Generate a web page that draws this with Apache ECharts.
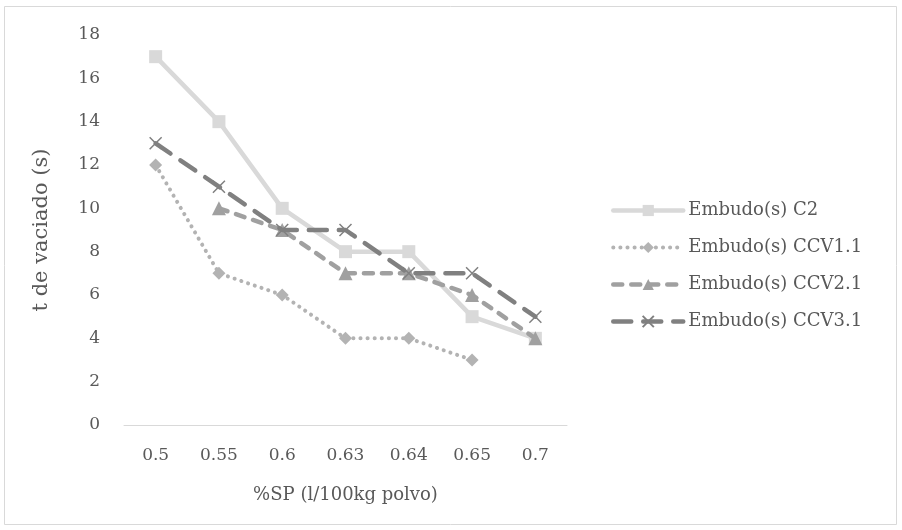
<!DOCTYPE html>
<html><head><meta charset="utf-8">
<script src="https://cdn.jsdelivr.net/npm/echarts@6/dist/echarts.min.js"></script>
<style>html,body{margin:0;padding:0;background:#fff}#c{width:902px;height:530px}</style>
</head><body><div id="c"></div>
<script>
const categories = ['0.5','0.55','0.6','0.63','0.64','0.65','0.7'];
const c2 = [17, 14, 10, 8, 8, 5, 4];
const ccv11 = [12, 7, 6, 4, 4, 3, null];
const ccv21 = [null, 10, 9, 7, 7, 6, 4];
const ccv31 = [13, 11, 9, 9, 7, 7, 5];
const names = ['Embudo(s) C2','Embudo(s) CCV1.1','Embudo(s) CCV2.1','Embudo(s) CCV3.1'];
const yTicks = {min: 0, max: 18, interval: 2};

const FONT = 'DejaVu Serif';
const chart = echarts.init(document.getElementById('c'), null, {renderer:'canvas'});
const xPath = 'path://M0,0L10,10M10,0L0,10';
const styles = [
  {color:'#d9d9d9', width:4.5, type:'solid'},
  {color:'#b3b3b3', width:4, type:[0.1,7]},
  {color:'#a0a0a0', width:4.5, type:[9,9]},
  {color:'#808080', width:4.5, type:[18,12]}
];
chart.setOption({
  animation: false,
  backgroundColor: '#fff',
  graphic: [{type:'rect', shape:{x:4.5,y:6.5,width:892,height:518}, style:{fill:'none', stroke:'#d9d9d9', lineWidth:1}, silent:true}],
  grid: {left:124, right:335, top:35, bottom:105, containLabel:false},
  textStyle: {fontFamily: FONT, color:'#595959'},
  xAxis: {
    type:'category', data: categories, boundaryGap: true,
    axisLine:{lineStyle:{color:'#d9d9d9', width:1}},
    axisTick:{show:false},
    axisLabel:{color:'#595959', fontFamily:FONT, fontSize:17, margin:22},
    name:'%SP (l/100kg polvo)', nameLocation:'middle', nameGap:61,
    nameTextStyle:{color:'#595959', fontFamily:FONT, fontSize:18}
  },
  yAxis: {
    type:'value', min:yTicks.min, max:yTicks.max, interval:yTicks.interval,
    axisLine:{show:false}, axisTick:{show:false}, splitLine:{show:false},
    axisLabel:{color:'#595959', fontFamily:FONT, fontSize:17, margin:24},
    name:'t de vaciado (s)', nameLocation:'middle', nameGap:72, nameRotate:90,
    nameTextStyle:{color:'#595959', fontFamily:FONT, fontSize:21}
  },
  legend: {
    orient:'vertical', left:606, top:195, itemGap:16, itemWidth:70, itemHeight:14,
    textStyle:{color:'#595959', fontFamily:FONT, fontSize:18, lineHeight:21},
    data: names.map((n,i)=>({name:n, lineStyle:{width:styles[i].width, color:styles[i].color, type:styles[i].type, cap:'round'}}))
  },
  series: [
    {name:names[0], type:'line', data:c2, symbol:'rect', symbolSize:13,
     lineStyle:{color:styles[0].color, width:4.5}, itemStyle:{color:'#d9d9d9'}, z:2},
    {name:names[1], type:'line', data:ccv11, symbol:'diamond', symbolSize:13,
     lineStyle:{color:styles[1].color, width:4, type:styles[1].type, cap:'round'}, itemStyle:{color:'#b3b3b3'}, z:3},
    {name:names[2], type:'line', data:ccv21, symbol:'triangle', symbolSize:14,
     lineStyle:{color:styles[2].color, width:4.5, type:styles[2].type, cap:'round'}, itemStyle:{color:'#a0a0a0'}, z:4},
    {name:names[3], type:'line', data:ccv31, symbol:xPath, symbolSize:12,
     lineStyle:{color:styles[3].color, width:4.5, type:styles[3].type, cap:'round'},
     itemStyle:{color:'none', borderColor:'#808080', borderWidth:1.5}, z:5}
  ]
});
</script></body></html>
